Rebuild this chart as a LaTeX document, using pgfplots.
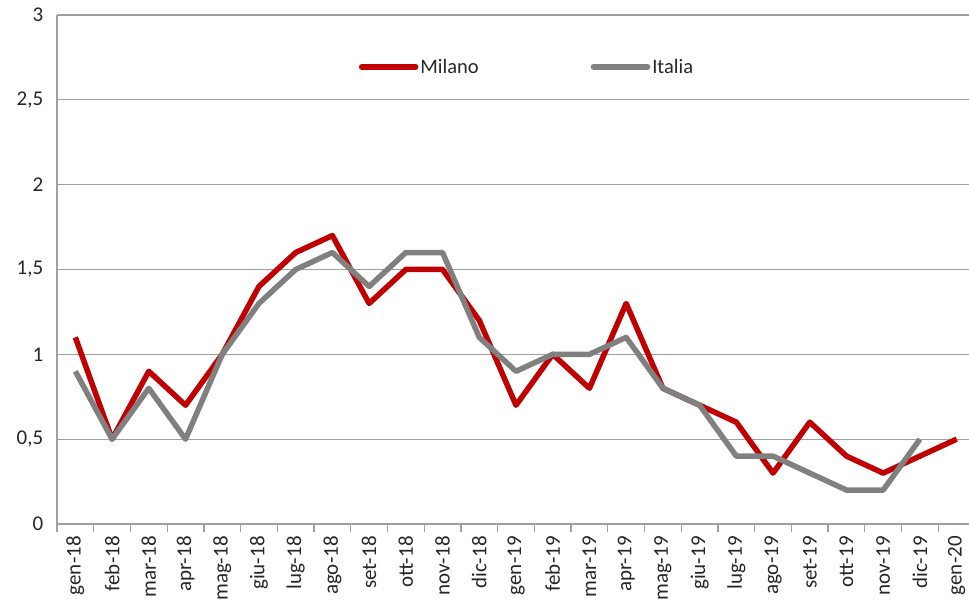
\documentclass[border=0pt]{standalone}
\usepackage{pgfplots}
\pgfplotsset{compat=1.18}
\usepackage{fontspec}
\setmainfont{Carlito}
\definecolor{milano}{HTML}{C00000}
\definecolor{italia}{HTML}{808080}
\definecolor{gridc}{HTML}{A0A0A0}
\begin{document}
\begin{tikzpicture}[x=1pt,y=1pt]
\useasboundingbox (-57,-77) rectangle (912,524);
\begin{axis}[
  at={(0,0)}, anchor=south west,
  scale only axis, width=918pt, height=509pt,
  xmin=-0.5, xmax=24.5, ymin=0, ymax=3,
  xtick={0,...,24},
  xticklabels={gen-18,feb-18,mar-18,apr-18,mag-18,giu-18,lug-18,ago-18,set-18,ott-18,nov-18,dic-18,gen-19,feb-19,mar-19,apr-19,mag-19,giu-19,lug-19,ago-19,set-19,ott-19,nov-19,dic-19,gen-20},
  minor xtick={-0.5,0.5,...,24.5},
  major x tick style={draw=none},
  minor x tick style={draw=gridc, line width=1.3pt},
  minor tick length=8pt,
  tick align=outside,
  ytick={0,0.5,...,3},
  major y tick style={draw=none},
  ymajorgrids, grid style={draw=gridc, line width=1.3pt},
  axis x line*=bottom, axis y line*=left,
  axis line style={draw=gridc, line width=1.3pt, -},
  /pgf/number format/assume math mode=true,
  /pgf/number format/use comma, /pgf/number format/fixed,
  /pgf/number format/precision=1,
  tick label style={font=\fontsize{21}{23}\selectfont, text=black!85},
  xticklabel style={rotate=90, anchor=east, xshift=-4.5pt},
  yticklabel style={xshift=-6pt},
  legend columns=2,
  legend style={draw=none, fill=none, font=\fontsize{20.5}{22}\selectfont, text=black!85,
    at={(0.512,0.898)}, anchor=center,
    /tikz/every even column/.append style={column sep=110pt}},
  legend image code/.code={\draw[#1, line cap=round] (0pt,0pt) -- (54pt,0pt);},
  clip=false,
]
\addplot[milano, line width=5.5pt, line join=round] coordinates {
(0,1.1) (1,0.5) (2,0.9) (3,0.7) (4,1.0) (5,1.4) (6,1.6) (7,1.7) (8,1.3) (9,1.5) (10,1.5) (11,1.2)
(12,0.7) (13,1.0) (14,0.8) (15,1.3) (16,0.8) (17,0.7) (18,0.6) (19,0.3) (20,0.6) (21,0.4) (22,0.3) (23,0.4) (24,0.5)};
\addlegendentry{Milano}
\addplot[italia, line width=5.5pt, line join=round] coordinates {
(0,0.9) (1,0.5) (2,0.8) (3,0.5) (4,1.0) (5,1.3) (6,1.5) (7,1.6) (8,1.4) (9,1.6) (10,1.6) (11,1.1)
(12,0.9) (13,1.0) (14,1.0) (15,1.1) (16,0.8) (17,0.7) (18,0.4) (19,0.4) (20,0.3) (21,0.2) (22,0.2) (23,0.5)};
\addlegendentry{Italia}
\end{axis}
\end{tikzpicture}
\end{document}
